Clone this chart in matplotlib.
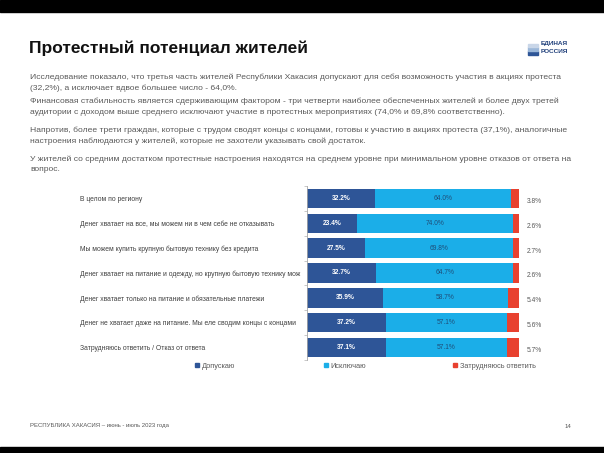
import matplotlib
matplotlib.use("Agg")
import matplotlib.pyplot as plt
from matplotlib.patches import Rectangle, Patch
import numpy as np

plt.rcParams['font.family'] = ['Liberation Sans', 'DejaVu Sans']

categories = [
    "В целом по региону",
    "Денег хватает на все, мы можем ни в чем себе не отказывать",
    "Мы можем купить крупную бытовую технику без кредита",
    "Денег хватает на питание и одежду, но крупную бытовую технику мож",
    "Денег хватает только на питание и обязательные платежи",
    "Денег не хватает даже на питание. Мы еле сводим концы с концами",
    "Затрудняюсь ответить / Отказ от ответа",
]
allow = [32.2, 23.4, 27.5, 32.7, 35.9, 37.2, 37.1]
exclude = [64.0, 74.0, 69.8, 64.7, 58.7, 57.1, 57.1]
unsure = [3.8, 2.6, 2.7, 2.6, 5.4, 5.6, 5.7]
series_names = ["Допускаю", "Исключаю", "Затрудняюсь ответить"]

c_dark = "#2E5597"
c_light = "#1BAEE8"
c_red = "#E8412F"
gray = "#595959"

W, H = 604, 453
fig = plt.figure(figsize=(W / 100, H / 100), dpi=100)
fig.patch.set_facecolor("white")

def fx(px):
    return px / W

def fy(py):
    return 1 - py / H

# black bands
fig.patches.append(Rectangle((0, fy(12)), 1, 12 / H, transform=fig.transFigure,
                             color="black", zorder=0))
fig.patches.append(Rectangle((0, 0), 1, fy(447), transform=fig.transFigure,
                             color="black", zorder=0))

# title
fig.text(fx(29), fy(48), "Протестный потенциал жителей", fontsize=12.5,
         fontweight="bold", color="#111111", va="center", ha="left")

# logo
fig.text(fx(541), fy(44), "ЕДИНАЯ", fontsize=4.6, fontweight="bold",
         color="#1F3F7A", va="center", ha="left")
fig.text(fx(541), fy(51.5), "РОССИЯ", fontsize=4.6, fontweight="bold",
         color="#1F3F7A", va="center", ha="left")
fig.patches.append(Rectangle((fx(528), fy(55)), 10 / W, 4 / H,
                             transform=fig.transFigure, color="#2E5597"))
fig.patches.append(Rectangle((fx(528), fy(51)), 10 / W, 4 / H,
                             transform=fig.transFigure, color="#9BB7D9"))
fig.patches.append(Rectangle((fx(528), fy(47)), 10 / W, 3 / H,
                             transform=fig.transFigure, color="#C9D6E8"))

# paragraphs
paras = [
    (77, "Исследование показало, что третья часть жителей Республики Хакасия допускают для себя возможность участия в акциях протеста"),
    (88, "(32,2%), а исключает вдвое большее число - 64,0%."),
    (101, "Финансовая стабильность является сдерживающим фактором - три четверти наиболее обеспеченных жителей и более двух третей"),
    (112, "аудитории с доходом выше среднего исключают участие в протестных мероприятиях (74,0% и 69,8% соответственно)."),
    (130, "Напротив, более трети граждан, которые с трудом сводят концы с концами, готовы к участию в акциях протеста (37,1%), аналогичные"),
    (141, "настроения наблюдаются у жителей, которые не захотели указывать свой достаток."),
    (159, "У жителей со средним достатком протестные настроения находятся на среднем уровне при минимальном уровне отказов от ответа на"),
    (170, "вопрос."),
]
for y, t in paras:
    fig.text(fx(30), fy(y), t, fontsize=6.1, color=gray, va="center", ha="left")

# chart
ax = fig.add_axes([fx(307), fy(360), (519 - 307) / W, (360 - 186) / H])
y = np.arange(len(categories))
h = 0.78
ax.barh(y, allow, height=h, color=c_dark, label=series_names[0])
ax.barh(y, exclude, left=allow, height=h, color=c_light, label=series_names[1])
left2 = np.array(allow) + np.array(exclude)
ax.barh(y, unsure, left=left2, height=h, color=c_red, label=series_names[2])

for i in range(len(categories)):
    ax.text(allow[i] / 2, y[i], f"{allow[i]:.1f}%", ha="center", va="center",
            fontsize=4.8, color="white", fontweight="bold")
    ax.text(allow[i] + exclude[i] / 2, y[i], f"{exclude[i]:.1f}%", ha="center",
            va="center", fontsize=4.8, color="#1F4E79")
    ax.text(107.3, y[i] + 0.12, f"{unsure[i]:.1f}%", ha="center", va="center",
            fontsize=4.8, color=gray, clip_on=False)

ax.set_xlim(0, 100)
ax.set_ylim(len(categories) - 0.5, -0.5)
ax.set_xticks([])
ax.set_yticks(y)
ax.set_yticklabels(categories, ha="left", fontsize=4.85, color="#404040")
ax.tick_params(axis="y", which="major", length=0, pad=(307 - 80) * 0.72)
ax.set_yticks(np.arange(-0.5, len(categories)), minor=True)
ax.tick_params(axis="y", which="minor", length=2, color="#BFBFBF", width=0.6)
for s in ["top", "right", "bottom"]:
    ax.spines[s].set_visible(False)
ax.spines["left"].set_color("#A6A6A6")
ax.spines["left"].set_linewidth(0.6)

# legend entries
colors = [c_dark, c_light, c_red]
xs = [195, 324, 453]
for name, col, xp in zip(series_names, colors, xs):
    fig.legend(handles=[Patch(color=col, label=name)], loc="center left",
               bbox_to_anchor=(fx(xp), fy(366)), frameon=False, fontsize=5.3,
               handlelength=0.6, handleheight=0.6, handletextpad=0.3,
               borderpad=0, borderaxespad=0, labelcolor=gray)

# footer
fig.text(fx(30), fy(426), "РЕСПУБЛИКА ХАКАСИЯ – июнь - июль 2023 года",
         fontsize=4.3, color=gray, va="center", ha="left")
fig.text(fx(568), fy(426), "14", fontsize=4.3, color=gray, va="center", ha="center")

fig.savefig("out.png", dpi=100, facecolor="white")
